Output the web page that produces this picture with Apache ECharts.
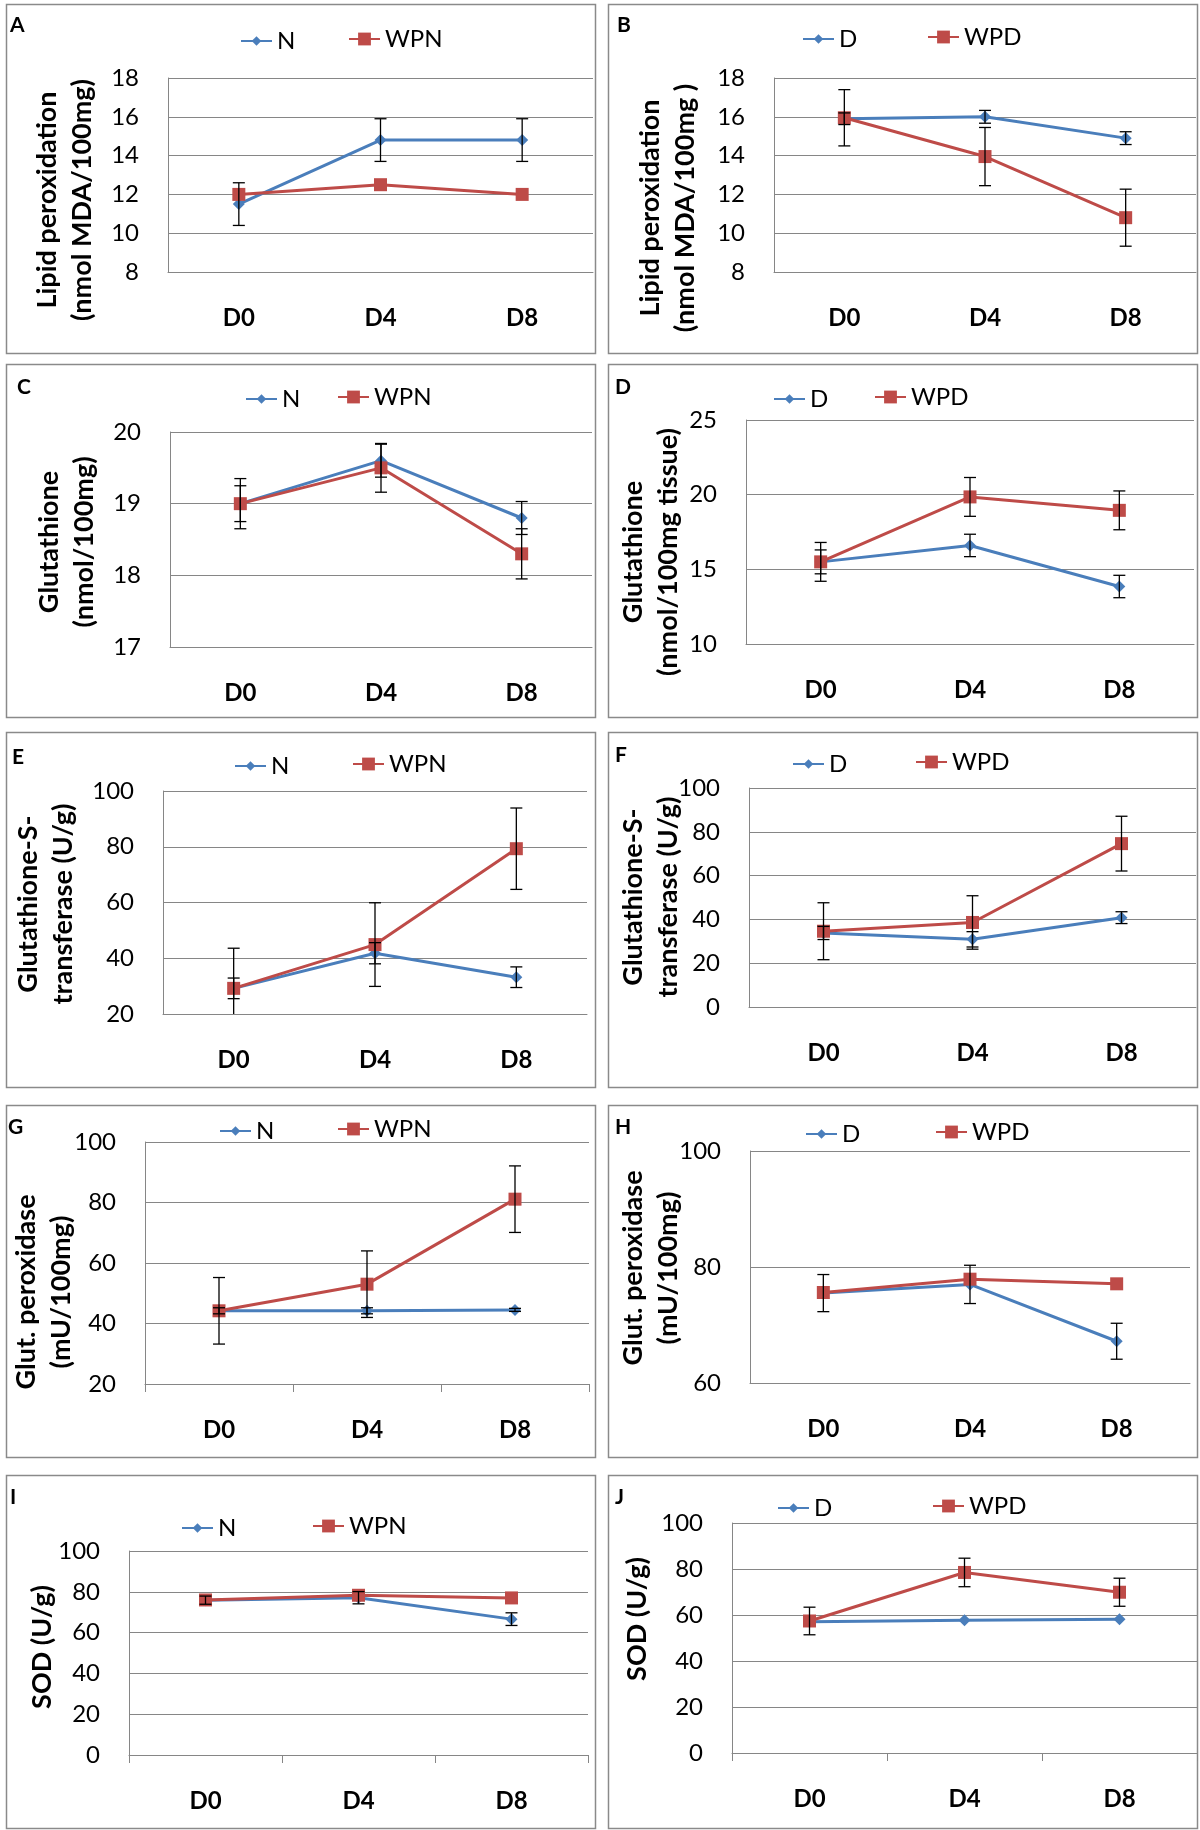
<!DOCTYPE html>
<html><head><meta charset="utf-8">
<script src="https://cdn.jsdelivr.net/npm/echarts@6/dist/echarts.min.js"></script>
<style>html,body{margin:0;padding:0;background:#fff}#c{width:1200px;height:1830px}</style>
</head><body><div id="c"></div>
<script>
// ---------- DATA ----------
const categories = ['D0', 'D4', 'D8'];
// A: Lipid peroxidation, N / WPN
const lipidN = [11.5, 14.8, 14.8];
const lipidNErr = [1.1, 1.1, 1.1];
const lipidWPN = [12.0, 12.5, 12.0];
const lipidWPNErr = [0, 0, 0];
// B: Lipid peroxidation, D / WPD
const lipidD = [15.9, 16.0, 14.9];
const lipidDErr = [0.3, 0.33, 0.33];
const lipidWPD = [15.95, 13.95, 10.8];
const lipidWPDErr = [1.45, 1.5, 1.47];
// C: Glutathione, N / WPN
const gshN = [19.0, 19.6, 18.8];
const gshNErr = [0.35, 0.23, 0.23];
const gshWPN = [19.0, 19.5, 18.3];
const gshWPNErr = [0.25, 0.34, 0.35];
// D: Glutathione, D / WPD
const gshD = [15.5, 16.6, 13.85];
const gshDErr = [0.8, 0.75, 0.75];
const gshWPD = [15.5, 19.85, 18.95];
const gshWPDErr = [1.3, 1.3, 1.3];
// E: Glutathione-S-transferase, N / WPN
const gstN = [29.2, 41.8, 33.2];
const gstNErr = [3.7, 3.8, 3.7];
const gstWPN = [29.2, 44.9, 79.3];
const gstWPNErr = [14.4, 15.0, 14.6];
// F: Glutathione-S-transferase, D / WPD
const gstD = [33.8, 30.9, 40.8];
const gstDErr = [3.0, 3.5, 2.7];
const gstWPD = [34.6, 38.6, 74.6];
const gstWPDErr = [13.0, 12.2, 12.5];
// G: Glut. peroxidase, N / WPN
const gpxN = [44.2, 44.2, 44.5];
const gpxNErr = [1.0, 1.0, 0.5];
const gpxWPN = [44.2, 53.0, 81.1];
const gpxWPNErr = [11.0, 11.0, 11.0];
// H: Glut. peroxidase, D / WPD
const gpxD = [75.5, 77.0, 67.2];
const gpxDErr = [3.2, 3.3, 3.1];
const gpxWPD = [75.6, 77.9, 77.1];
const gpxWPDErr = [0, 0, 0];
// I: SOD, N / WPN
const sodN = [75.9, 77.1, 66.6];
const sodNErr = [2.0, 3.0, 3.1];
const sodWPN = [76.0, 78.3, 77.0];
const sodWPNErr = [0, 0, 0];
// J: SOD, D / WPD
const sodD = [57.1, 57.7, 58.1];
const sodDErr = [0, 0, 0];
const sodWPD = [57.4, 78.5, 69.9];
const sodWPDErr = [6.0, 6.2, 6.1];

// ---------- LAYOUT ----------
const panels = [
  {letter:'A', box:[6,4,589,349], grid:[168,78,425,194], y:[8,18,2], names:['N','WPN'], vals:[lipidN,lipidWPN], errs:[lipidNErr,lipidWPNErr], leg:[[240,35],[348,35]], title:['Lipid peroxidation','(nmol MDA/100mg)'], tpos:[65,200], lpos:[10,25], ticks:false},
  {letter:'B', box:[608,4,589,349], grid:[774,78,422,194], y:[8,18,2], names:['D','WPD'], vals:[lipidD,lipidWPD], errs:[lipidDErr,lipidWPDErr], leg:[[802,33],[927,33]], title:['Lipid peroxidation','(nmol MDA/100mg )'], tpos:[668,208], lpos:[617,25], ticks:false},
  {letter:'C', box:[6,364,589,353], grid:[170,432,422,215], y:[17,20,1], names:['N','WPN'], vals:[gshN,gshWPN], errs:[gshNErr,gshWPNErr], leg:[[245,393],[337,393]], title:['Glutathione','(nmol/100mg)'], tpos:[67,542], lpos:[17,387], ticks:false},
  {letter:'D', box:[608,364,589,353], grid:[746,420,448,224], y:[10,25,5], names:['D','WPD'], vals:[gshD,gshWPD], errs:[gshDErr,gshWPDErr], leg:[[773,393],[874,393]], title:['Glutathione','(nmol/100mg tissue)'], tpos:[651,552], lpos:[615,387], ticks:false},
  {letter:'E', box:[6,732,589,355], grid:[163,791,424,223], y:[20,100,20], names:['N','WPN'], vals:[gstN,gstWPN], errs:[gstNErr,gstWPNErr], leg:[[234,760],[352,760]], title:['Glutathione-S-','transferase (U/g)'], tpos:[46,904], lpos:[12,757], ticks:false},
  {letter:'F', box:[608,732,589,355], grid:[749,788,447,219], y:[0,100,20], names:['D','WPD'], vals:[gstD,gstWPD], errs:[gstDErr,gstWPDErr], leg:[[792,758],[915,758]], title:['Glutathione-S-','transferase (U/g)'], tpos:[651,897], lpos:[615,755], ticks:false},
  {letter:'G', box:[6,1105,589,352], grid:[145,1142,444,242], y:[20,100,20], names:['N','WPN'], vals:[gpxN,gpxWPN], errs:[gpxNErr,gpxWPNErr], leg:[[219,1125],[337,1125]], title:['Glut. peroxidase','(mU/100mg)'], tpos:[44,1292], lpos:[8,1127], ticks:true},
  {letter:'H', box:[608,1105,589,352], grid:[750,1151,440,232], y:[60,100,20], names:['D','WPD'], vals:[gpxD,gpxWPD], errs:[gpxDErr,gpxWPDErr], leg:[[805,1128],[935,1128]], title:['Glut. peroxidase','(mU/100mg)'], tpos:[651,1268], lpos:[615,1127], ticks:false},
  {letter:'I', box:[6,1475,589,353], grid:[129,1551,459,204], y:[0,100,20], names:['N','WPN'], vals:[sodN,sodWPN], errs:[sodNErr,sodWPNErr], leg:[[181,1522],[312,1522]], title:['SOD (U/g)'], tpos:[42,1647], lpos:[10,1497], ticks:true},
  {letter:'J', box:[608,1475,589,353], grid:[732,1523,465,230], y:[0,100,20], names:['D','WPD'], vals:[sodD,sodWPD], errs:[sodDErr,sodWPDErr], leg:[[777,1502],[932,1502]], title:['SOD (U/g)'], tpos:[637,1619], lpos:[615,1497], ticks:true}
];

const BLUE = '#4A7EBB', RED = '#BE4B48', GRID = '#868686';
const FONT = 'Lato';

function renderErr(params, api) {
  const x = api.value(0), v = api.value(1), e = api.value(2);
  if (!e) return null;
  const top = api.coord([x, v + e]);
  const bot = api.coord([x, v - e]);
  const w = 6;
  const style = {stroke: '#000', lineWidth: 1.3};
  return {type: 'group', children: [
    {type: 'line', shape: {x1: top[0], y1: top[1], x2: bot[0], y2: bot[1]}, style},
    {type: 'line', shape: {x1: top[0] - w, y1: top[1], x2: top[0] + w, y2: top[1]}, style},
    {type: 'line', shape: {x1: bot[0] - w, y1: bot[1], x2: bot[0] + w, y2: bot[1]}, style}
  ]};
}

const grids = [], xAxes = [], yAxes = [], series = [], legends = [], graphics = [];
panels.forEach((p, i) => {
  grids.push({left: p.grid[0], top: p.grid[1], width: p.grid[2], height: p.grid[3], containLabel: false});
  xAxes.push({gridIndex: i, type: 'category', data: categories, boundaryGap: true,
    axisLine: {show: true, lineStyle: {color: GRID, width: 1}},
    axisTick: {show: p.ticks, alignWithLabel: false, length: 8, lineStyle: {color: GRID}},
    axisLabel: {margin: 34, fontFamily: FONT, fontWeight: 'bold', fontSize: 24, color: '#000'},
    splitLine: {show: false}});
  yAxes.push({gridIndex: i, type: 'value', min: p.y[0], max: p.y[1], interval: p.y[2],
    axisLine: {show: true, lineStyle: {color: GRID, width: 1}},
    axisTick: {show: false},
    axisLabel: {margin: 29, fontFamily: FONT, fontSize: 24, color: '#000'},
    splitLine: {show: true, lineStyle: {color: GRID, width: 1}}});
  p.names.forEach((nm, j) => {
    const color = j === 0 ? BLUE : RED;
    series.push({type: 'line', name: nm, xAxisIndex: i, yAxisIndex: i, data: p.vals[j],
      symbol: j === 0 ? 'diamond' : 'rect', symbolSize: j === 0 ? 12 : 13,
      lineStyle: {width: 3, color}, itemStyle: {color}, z: 2 + j, animation: false, silent: true});
  });
  p.names.forEach((nm, j) => {
    series.push({type: 'custom', xAxisIndex: i, yAxisIndex: i,
      data: p.vals[j].map((v, k) => [k, v, p.errs[j][k]]),
      encode: {x: 0, y: 1}, renderItem: renderErr, clip: true, z: 5, silent: true, animation: false});
  });
  p.names.forEach((nm, j) => {
    const ih = j === 0 ? 12 : 16;
    legends.push({data: [nm], left: p.leg[j][0], top: p.leg[j][1] - ih / 2, padding: 0,
      itemWidth: 31, itemHeight: ih, selectedMode: false,
      textStyle: {fontFamily: FONT, fontSize: 24, color: '#000', lineHeight: 24}});
  });
  graphics.push({type: 'rect', shape: {x: p.box[0] + 0.5, y: p.box[1] + 0.5, width: p.box[2], height: p.box[3]},
    style: {fill: 'none', stroke: '#8a8a8a', lineWidth: 1.5}, silent: true});
  graphics.push({type: 'text', x: p.lpos[0], y: p.lpos[1],
    style: {text: p.letter, font: 'bold 21px ' + FONT, fill: '#000', align: 'left', verticalAlign: 'middle'}});
  graphics.push({type: 'text', x: p.tpos[0], y: p.tpos[1], rotation: Math.PI / 2,
    style: {text: p.title.join('\n'), font: 'bold 27px ' + FONT, fill: '#000', align: 'center', verticalAlign: 'middle', lineHeight: 35}});
});

const chart = echarts.init(document.getElementById('c'), null, {renderer: 'canvas'});
chart.setOption({
  animation: false,
  backgroundColor: '#fff',
  grid: grids, xAxis: xAxes, yAxis: yAxes, series, legend: legends, graphic: graphics
});
</script></body></html>
